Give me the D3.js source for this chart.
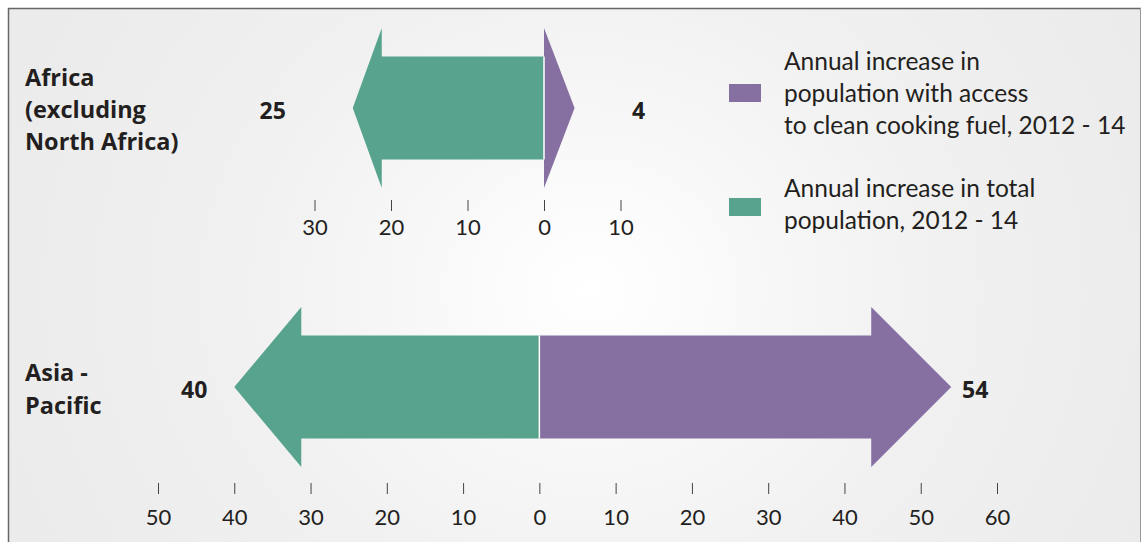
<!DOCTYPE html>
<html>
<head>
<meta charset="utf-8">
<script src="https://cdn.jsdelivr.net/npm/d3@7"></script>
<style>
  html, body { margin: 0; padding: 0; background: #ffffff; }
  svg { display: block; }
  text { font-family: Lato, "Open Sans", sans-serif; fill: #231f20; }
  text.bold { font-family: "Open Sans", Lato, sans-serif; font-weight: 700; }
</style>
</head>
<body>
<svg id="chart" width="1142" height="542"></svg>
<script>
// ---------------- data ----------------
const regions = ["Africa (excluding North Africa)", "Asia - Pacific"];
const regionLines = [["Africa", "(excluding", "North Africa)"], ["Asia -", "Pacific"]];
const totalIncrease = [25, 40];        // annual increase in total population, 2012-14 (millions)
const cleanFuelIncrease = [4, 54];     // annual increase in population with access to clean cooking fuel
const africaTicks = [-30, -20, -10, 0, 10];
const asiaTicks = [-50, -40, -30, -20, -10, 0, 10, 20, 30, 40, 50, 60];
const legendLabels = [
  ["Annual increase in", "population with access", "to clean cooking fuel, 2012 - 14"],
  ["Annual increase in total", "population, 2012 - 14"]
];

// ---------------- style ----------------
const W = 1142, H = 542;
const GREEN = "#57a38e", PURPLE = "#8670a1";
const svg = d3.select("#chart");

// background
const defs = svg.append("defs");
const grad = defs.append("radialGradient")
  .attr("id", "bg").attr("gradientUnits", "userSpaceOnUse")
  .attr("cx", 590).attr("cy", 290).attr("r", 620)
  .attr("gradientTransform", "translate(590,290) scale(1,0.9) translate(-590,-290)");
grad.append("stop").attr("offset", 0).attr("stop-color", "#ffffff");
grad.append("stop").attr("offset", 0.55).attr("stop-color", "#f1f1f1");
grad.append("stop").attr("offset", 1).attr("stop-color", "#ebebeb");
svg.append("rect").attr("x", 8).attr("y", 8).attr("width", 1132).attr("height", H - 8).attr("fill", "url(#bg)");
svg.append("line").attr("x1", 8).attr("x2", 1141).attr("y1", 8.5).attr("y2", 8.5).attr("stroke", "#666").attr("stroke-width", 1.5);
svg.append("line").attr("x1", 8.5).attr("x2", 8.5).attr("y1", 8).attr("y2", H).attr("stroke", "#666").attr("stroke-width", 1.5);
svg.append("line").attr("x1", 1140.5).attr("x2", 1140.5).attr("y1", 8).attr("y2", H).attr("stroke", "#999").attr("stroke-width", 1);

// scales
const xScales = [
  d3.scaleLinear().domain([-30, 10]).range([314.5, 620.5]),
  d3.scaleLinear().domain([-50, 60]).range([158, 997])
];
const tickSets = [africaTicks, asiaTicks];
const y = d3.scalePoint().domain(regions).range([108, 387]);
const axisY = [200, 483];
const axisPad = [8, 15];
const HEAD_HALF = 80, SHAFT_HALF = 51.5;
const headLenPx = [[29, Infinity], [67, 80]];   // [green, purple] arrowhead length
const labelOffsetPx = [[80, 64], [40, 24]];
const regionLineH = [32, 33];

function arrowPath(x0, xt, cy, headLen) {
  const dir = Math.sign(xt - x0);
  const len = Math.abs(xt - x0);
  if (headLen >= len) {
    return d3.line()([[x0, cy - HEAD_HALF], [xt, cy], [x0, cy + HEAD_HALF]]) + "Z";
  }
  const xb = xt - dir * headLen;
  return d3.line()([
    [x0, cy - SHAFT_HALF], [xb, cy - SHAFT_HALF], [xb, cy - HEAD_HALF], [xt, cy],
    [xb, cy + HEAD_HALF], [xb, cy + SHAFT_HALF], [x0, cy + SHAFT_HALF]
  ]) + "Z";
}

regions.forEach((r, i) => {
  const x = xScales[i];
  const cy = y(r);
  const g = svg.append("g");
  // green (total population) to the left
  g.append("path").attr("d", arrowPath(x(0), x(-totalIncrease[i]), cy, headLenPx[i][0])).attr("fill", GREEN);
  // purple (clean fuel) to the right
  g.append("path").attr("d", arrowPath(x(0), x(cleanFuelIncrease[i]), cy, headLenPx[i][1])).attr("fill", PURPLE);
  g.append("line").attr("x1", x(0)).attr("x2", x(0))
    .attr("y1", cy - SHAFT_HALF).attr("y2", cy + SHAFT_HALF)
    .attr("stroke", "#ffffff").attr("stroke-width", 1.5);

  // value labels
  g.append("text").attr("class", "bold").attr("x", x(-totalIncrease[i]) - labelOffsetPx[i][0]).attr("y", cy + 11)
    .attr("text-anchor", "middle").attr("font-size", 23)
    .text(totalIncrease[i]);
  g.append("text").attr("class", "bold").attr("x", x(cleanFuelIncrease[i]) + labelOffsetPx[i][1]).attr("y", cy + 11)
    .attr("text-anchor", "middle").attr("font-size", 23)
    .text(cleanFuelIncrease[i]);

  // region labels
  const lines = regionLines[i];
  const lh = regionLineH[i];
  const top = cy + 10 - (lines.length - 1) * lh / 2;
  g.append("text").attr("class", "bold").attr("x", 25).attr("font-size", 23.5)
    .selectAll("tspan").data(lines).join("tspan")
    .attr("x", 25).attr("y", (d, k) => top + k * lh).text(d => d);

  // axis
  const axis = d3.axisBottom(x).tickValues(tickSets[i]).tickSize(11).tickPadding(axisPad[i])
    .tickFormat(d => Math.abs(d));
  const ag = svg.append("g").attr("transform", `translate(0,${axisY[i]})`).call(axis);
  ag.select(".domain").remove();
  ag.selectAll(".tick line").attr("stroke", "#444").attr("stroke-width", 1);
  ag.selectAll(".tick text").attr("font-size", 22).attr("fill", "#231f20")
    .style("font-family", "Lato, 'Open Sans', sans-serif");
});

// legend
const legendColors = [PURPLE, GREEN];
const legendTop = [70, 197];
const legendSwatchY = [84, 198];
legendLabels.forEach((lines, j) => {
  svg.append("rect").attr("x", 729).attr("y", legendSwatchY[j]).attr("width", 32).attr("height", 18)
    .attr("fill", legendColors[j]);
  svg.append("text").attr("font-size", 24.5)
    .selectAll("tspan").data(lines).join("tspan")
    .attr("x", 784).attr("y", (d, k) => legendTop[j] + k * 32).text(d => d);
});
</script>
</body>
</html>
